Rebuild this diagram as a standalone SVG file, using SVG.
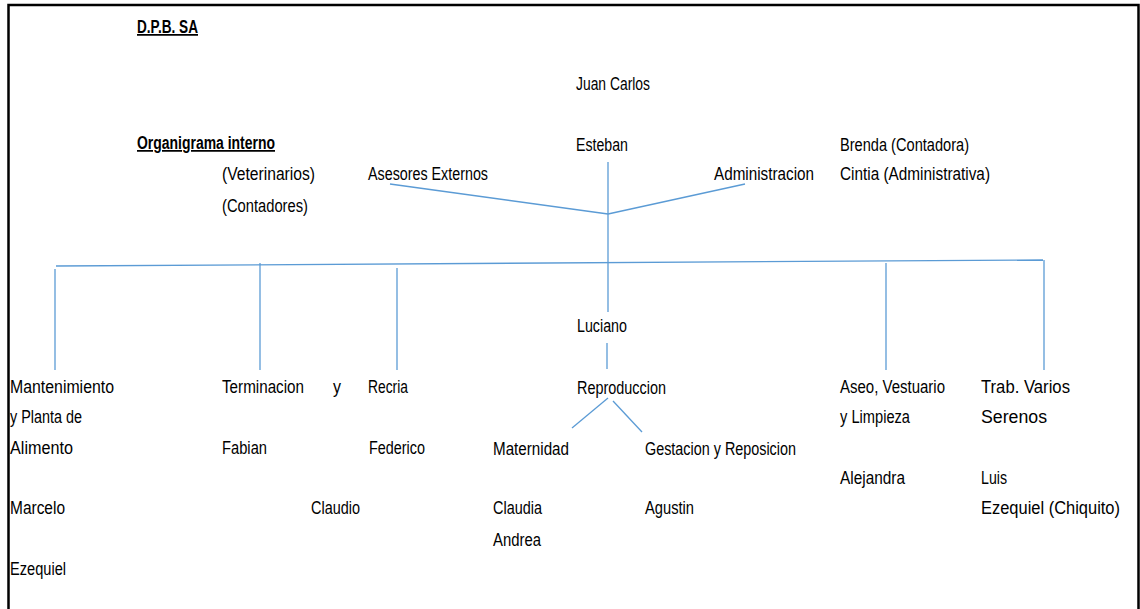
<svg xmlns="http://www.w3.org/2000/svg" width="1140" height="609" viewBox="0 0 1140 609">
<style>
text{font-family:"Liberation Sans",Arial,sans-serif;font-size:17.5px;fill:#000}
.b{font-weight:bold;text-decoration:underline}
.c line{stroke:#5B9BD5;stroke-width:1.3;fill:none}
</style>
<rect x="0" y="0" width="1140" height="609" fill="#fff"/>
<path d="M8.5,620 V5 H1138.5 V620" fill="none" stroke="#000" stroke-width="2.5"/>
<g id="titles">
<text class="b" x="137" y="33" textLength="61" lengthAdjust="spacingAndGlyphs">D.P.B. SA</text>
<text class="b" x="137" y="149" textLength="138" lengthAdjust="spacingAndGlyphs">Organigrama interno</text>
</g>
<g class="c" id="connectors">
<line x1="608" y1="162" x2="608" y2="263"/>
<line x1="390" y1="184" x2="608" y2="214"/>
<line x1="608" y1="214" x2="745" y2="184"/>
<line x1="56" y1="266" x2="1043" y2="260"/>
<line x1="55" y1="269" x2="55" y2="370"/>
<line x1="260" y1="263" x2="260" y2="370"/>
<line x1="397" y1="268" x2="397" y2="370"/>
<line x1="608" y1="263" x2="608" y2="312"/>
<line x1="607" y1="343" x2="607" y2="369"/>
<line x1="886" y1="263" x2="886" y2="370"/>
<line x1="1044" y1="260" x2="1044" y2="370"/>
<line x1="608" y1="398" x2="572" y2="428"/>
<line x1="613" y1="401" x2="642" y2="432"/>
</g>
<g id="juan-carlos"><text x="576" y="90" textLength="74" lengthAdjust="spacingAndGlyphs">Juan Carlos</text></g>
<g id="esteban"><text x="576" y="151" textLength="52" lengthAdjust="spacingAndGlyphs">Esteban</text></g>
<g id="brenda-cintia">
<text x="840" y="151" textLength="129" lengthAdjust="spacingAndGlyphs">Brenda (Contadora)</text>
<text x="840" y="180" textLength="150" lengthAdjust="spacingAndGlyphs">Cintia (Administrativa)</text>
</g>
<g id="administracion"><text x="714" y="180" textLength="100" lengthAdjust="spacingAndGlyphs">Administracion</text></g>
<g id="asesores"><text x="368" y="180" textLength="120" lengthAdjust="spacingAndGlyphs">Asesores Externos</text></g>
<g id="veterinarios">
<text x="222" y="180" textLength="93" lengthAdjust="spacingAndGlyphs">(Veterinarios)</text>
<text x="222" y="212" textLength="86" lengthAdjust="spacingAndGlyphs">(Contadores)</text>
</g>
<g id="mantenimiento">
<text x="10" y="393" textLength="104" lengthAdjust="spacingAndGlyphs">Mantenimiento</text>
<text x="10" y="423" textLength="72" lengthAdjust="spacingAndGlyphs">y Planta de</text>
<text x="10" y="454" textLength="63" lengthAdjust="spacingAndGlyphs">Alimento</text>
<text x="10" y="514" textLength="55" lengthAdjust="spacingAndGlyphs">Marcelo</text>
<text x="10" y="575" textLength="56" lengthAdjust="spacingAndGlyphs">Ezequiel</text>
</g>
<g id="terminacion">
<text x="222" y="393" textLength="82" lengthAdjust="spacingAndGlyphs">Terminacion</text>
<text x="333" y="393" textLength="8" lengthAdjust="spacingAndGlyphs">y</text>
<text x="222" y="454" textLength="45" lengthAdjust="spacingAndGlyphs">Fabian</text>
<text x="311" y="514" textLength="49" lengthAdjust="spacingAndGlyphs">Claudio</text>
</g>
<g id="recria">
<text x="368" y="393" textLength="40" lengthAdjust="spacingAndGlyphs">Recria</text>
<text x="369" y="454" textLength="56" lengthAdjust="spacingAndGlyphs">Federico</text>
</g>
<g id="luciano"><text x="577" y="332" textLength="50" lengthAdjust="spacingAndGlyphs">Luciano</text></g>
<g id="reproduccion"><text x="577" y="394" textLength="89" lengthAdjust="spacingAndGlyphs">Reproduccion</text></g>
<g id="maternidad">
<text x="493" y="455" textLength="76" lengthAdjust="spacingAndGlyphs">Maternidad</text>
<text x="493" y="514" textLength="49" lengthAdjust="spacingAndGlyphs">Claudia</text>
<text x="493" y="546" textLength="48" lengthAdjust="spacingAndGlyphs">Andrea</text>
</g>
<g id="gestacion">
<text x="645" y="455" textLength="151" lengthAdjust="spacingAndGlyphs">Gestacion y Reposicion</text>
<text x="645" y="514" textLength="49" lengthAdjust="spacingAndGlyphs">Agustin</text>
</g>
<g id="aseo">
<text x="840" y="393" textLength="105" lengthAdjust="spacingAndGlyphs">Aseo, Vestuario</text>
<text x="840" y="423" textLength="70" lengthAdjust="spacingAndGlyphs">y Limpieza</text>
<text x="840" y="484" textLength="65" lengthAdjust="spacingAndGlyphs">Alejandra</text>
</g>
<g id="trab-varios">
<text x="981" y="393" textLength="89" lengthAdjust="spacingAndGlyphs">Trab. Varios</text>
<text x="981" y="423" textLength="66" lengthAdjust="spacingAndGlyphs">Serenos</text>
<text x="981" y="484" textLength="26" lengthAdjust="spacingAndGlyphs">Luis</text>
<text x="981" y="514" textLength="139" lengthAdjust="spacingAndGlyphs">Ezequiel (Chiquito)</text>
</g>
</svg>
